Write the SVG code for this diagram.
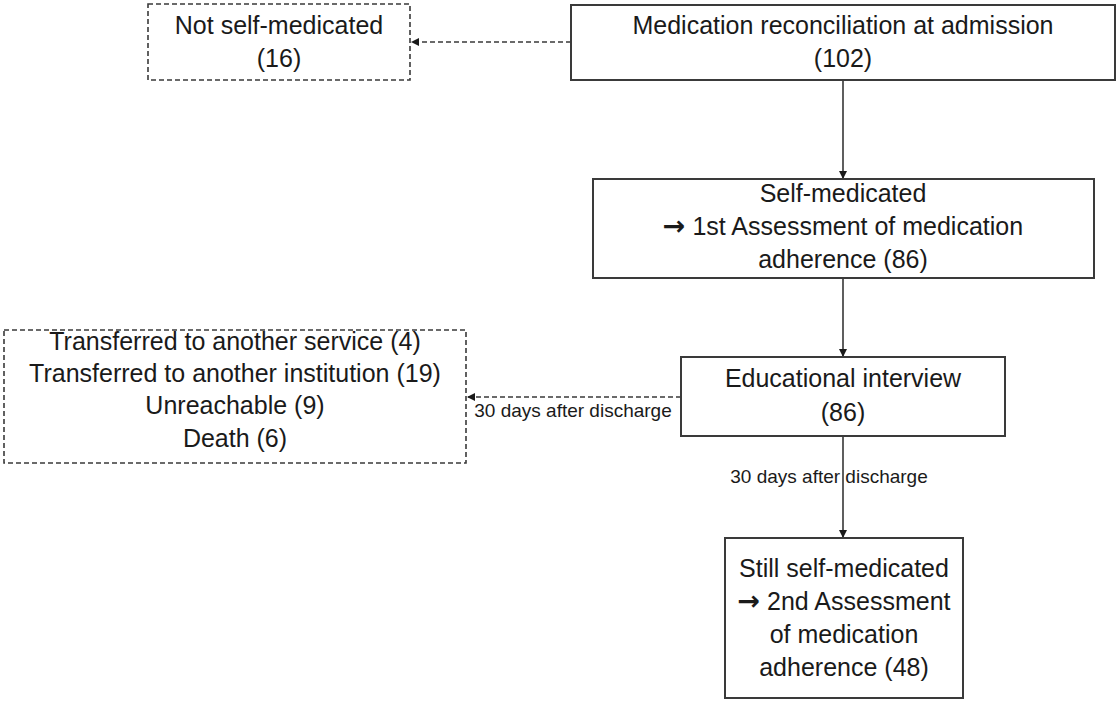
<svg xmlns="http://www.w3.org/2000/svg" width="1117" height="702" viewBox="0 0 1117 702">
<style>
.box{fill:#ffffff;stroke:#3a3a3a;stroke-width:2}
.dbox{fill:#ffffff;stroke:#3a3a3a;stroke-width:1.6;stroke-dasharray:5 3}
.t{font-family:"Liberation Sans",Arial,sans-serif;font-size:25px;fill:#1a1a1a;text-anchor:middle}
.arr{font-family:"DejaVu Sans",sans-serif;font-weight:bold;font-size:27px}
.lbl{font-family:"Liberation Sans",Arial,sans-serif;font-size:19px;fill:#1a1a1a}
.c{stroke:#1a1a1a;stroke-width:1.4;fill:none;marker-end:url(#ah)}
.dc{stroke:#3a3a3a;stroke-width:1.4;fill:none;stroke-dasharray:5 3;marker-end:url(#ah)}
</style>
<defs>
<marker id="ah" markerUnits="userSpaceOnUse" markerWidth="9" markerHeight="9" refX="8" refY="4" orient="auto">
<path d="M0,0 L8,4 L0,8 z" fill="#1a1a1a"/>
</marker>
</defs>
<rect width="1117" height="702" fill="#ffffff"/>
<g id="connectors">
<line class="dc" x1="571" y1="42" x2="411" y2="42"/>
<line class="c" x1="843" y1="80" x2="843" y2="179"/>
<line class="c" x1="843" y1="278" x2="843" y2="357"/>
<line class="dc" x1="681" y1="397" x2="467" y2="397"/>
<line class="c" x1="843" y1="436" x2="843" y2="538"/>
<text class="lbl" x="573" y="417" text-anchor="middle">30 days after discharge</text>
<text class="lbl" x="829" y="483" text-anchor="middle">30 days after discharge</text>
</g>
<g id="not-self-medicated">
<rect class="dbox" x="148" y="4" width="262" height="76"/>
<text class="t" x="279" y="34">Not self-medicated</text>
<text class="t" x="279" y="67">(16)</text>
</g>
<g id="reconciliation">
<rect class="box" x="571" y="5" width="544" height="75"/>
<text class="t" x="843" y="34">Medication reconciliation at admission</text>
<text class="t" x="843" y="67">(102)</text>
</g>
<g id="self-medicated">
<rect class="box" x="593" y="179" width="501" height="99"/>
<text class="t" x="843" y="202">Self-medicated</text>
<text class="t" x="843" y="235"><tspan class="arr">→</tspan> 1st Assessment of medication</text>
<text class="t" x="843" y="268">adherence (86)</text>
</g>
<g id="educational-interview">
<rect class="box" x="681" y="357" width="324" height="79"/>
<text class="t" x="843" y="387">Educational interview</text>
<text class="t" x="843" y="421">(86)</text>
</g>
<g id="lost">
<rect class="dbox" x="4" y="330" width="462" height="133"/>
<text class="t" x="235" y="350">Transferred to another service (4)</text>
<text class="t" x="235" y="382">Transferred to another institution (19)</text>
<text class="t" x="235" y="414">Unreachable (9)</text>
<text class="t" x="235" y="447">Death (6)</text>
</g>
<g id="still-self-medicated">
<rect class="box" x="725" y="538" width="238" height="160"/>
<text class="t" x="844" y="577">Still self-medicated</text>
<text class="t" x="844" y="610"><tspan class="arr">→</tspan> 2nd Assessment</text>
<text class="t" x="844" y="643">of medication</text>
<text class="t" x="844" y="676">adherence (48)</text>
</g>
</svg>
